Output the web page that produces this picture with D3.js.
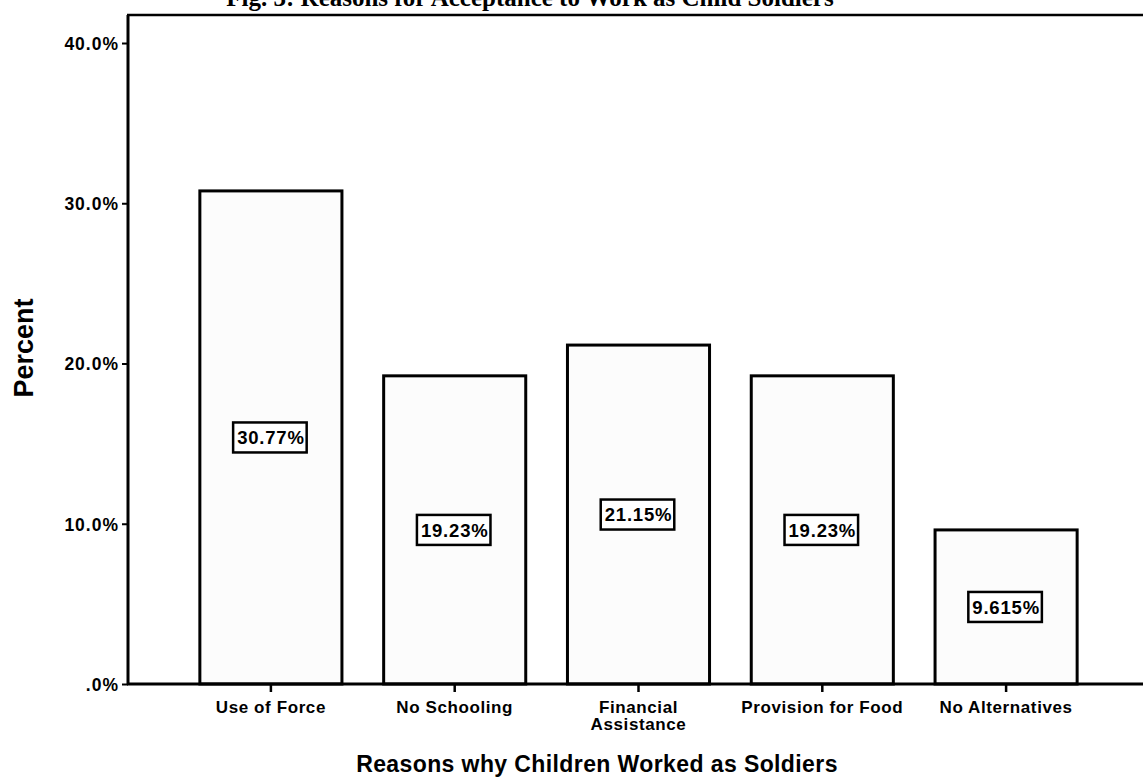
<!DOCTYPE html>
<html>
<head>
<meta charset="utf-8">
<script src="https://cdn.jsdelivr.net/npm/d3@7/dist/d3.min.js"></script>
<style>
  html, body { margin: 0; padding: 0; background: #fff; }
  svg { display: block; }
  text { font-family: "Liberation Sans", Arial, sans-serif; font-weight: bold; fill: #000; }
</style>
</head>
<body>
<svg id="chart" width="1143" height="779"></svg>
<script>
// Reasons and their share of respondents (percent)
const categories = ["Use of Force", "No Schooling", "Financial Assistance", "Provision for Food", "No Alternatives"];
const categoryLines = [["Use of Force"], ["No Schooling"], ["Financial", "Assistance"], ["Provision for Food"], ["No Alternatives"]];
const percents = [30.77, 19.23, 21.15, 19.23, 9.615];
const valueLabels = ["30.77%", "19.23%", "21.15%", "19.23%", "9.615%"];
const yTicks = [0, 10, 20, 30, 40];
const yTickLabels = [".0%", "10.0%", "20.0%", "30.0%", "40.0%"];

const svg = d3.select("#chart");

const x = d3.scaleBand()
  .domain(categories)
  .range([179, 1098])
  .paddingInner(0.227)
  .paddingOuter(0.1135);

const y = d3.scaleLinear()
  .domain([0, 40])
  .range([684, 43]);

// Chart title (runs off the top edge)
svg.append("text")
  .attr("x", 530)
  .attr("y", 6)
  .attr("text-anchor", "middle")
  .style("font-family", "'Liberation Serif', 'DejaVu Serif', serif")
  .style("font-size", "25px")
  .text("Fig. 3: Reasons for Acceptance to Work as Child Soldiers");

// Frame top edge
svg.append("line")
  .attr("x1", 127).attr("x2", 1143)
  .attr("y1", 15).attr("y2", 15)
  .attr("stroke", "#000").attr("stroke-width", 2.5);

// Bars
svg.append("g").selectAll("rect")
  .data(percents)
  .join("rect")
  .attr("x", (d, i) => x(categories[i]))
  .attr("y", d => y(d))
  .attr("width", x.bandwidth())
  .attr("height", d => y(0) - y(d))
  .attr("fill", "#fcfcfc")
  .attr("stroke", "#000")
  .attr("stroke-width", 3);

// Y axis
const yAxis = d3.axisLeft(y)
  .tickValues(yTicks)
  .tickFormat((d, i) => yTickLabels[i])
  .tickSize(6)
  .tickPadding(3);

const gy = svg.append("g")
  .attr("transform", "translate(128,0)")
  .call(yAxis);
gy.select(".domain").attr("stroke", "#000").attr("stroke-width", 3)
  .attr("d", "M0,15V684");
gy.selectAll(".tick line").attr("stroke", "#000").attr("stroke-width", 2);
gy.selectAll(".tick text")
  .style("font-size", "17.5px")
  .style("letter-spacing", "1px")
  .attr("dy", "0.36em");

// X axis
const xAxis = d3.axisBottom(x).tickSize(8).tickFormat("");
const gx = svg.append("g")
  .attr("transform", "translate(0,684)")
  .call(xAxis);
gx.select(".domain").attr("stroke", "#000").attr("stroke-width", 3)
  .attr("d", "M127,0H1143");
gx.selectAll(".tick line").attr("stroke", "#000").attr("stroke-width", 2.5);

// Category labels
const catG = svg.append("g");
categories.forEach((c, i) => {
  const lines = categoryLines[i];
  const t = catG.append("text")
    .attr("x", x(c) + x.bandwidth() / 2)
    .attr("y", 713)
    .attr("text-anchor", "middle")
    .style("font-size", "17px")
    .style("letter-spacing", "0.6px");
  lines.forEach((l, j) => {
    t.append("tspan")
      .attr("x", x(c) + x.bandwidth() / 2)
      .attr("dy", j === 0 ? 0 : 17)
      .text(l);
  });
});

// Value labels in boxes at bar mid-height
const lab = svg.append("g").selectAll("g")
  .data(percents)
  .join("g")
  .attr("transform", (d, i) => `translate(${x(categories[i]) + x.bandwidth() / 2},${(y(0) + y(d)) / 2})`);

lab.append("text")
  .attr("text-anchor", "middle")
  .attr("dy", "0.36em")
  .style("font-size", "18.5px")
  .style("letter-spacing", "0.8px")
  .text((d, i) => valueLabels[i]);

lab.each(function () {
  const g = d3.select(this);
  const bb = g.select("text").node().getBBox();
  g.insert("rect", "text")
    .attr("x", bb.x - 4)
    .attr("y", -15)
    .attr("width", bb.width + 6)
    .attr("height", 30)
    .attr("fill", "#fff")
    .attr("stroke", "#000")
    .attr("stroke-width", 2.5);
});

// Axis titles
svg.append("text")
  .attr("transform", "translate(33,348) rotate(-90)")
  .attr("text-anchor", "middle")
  .style("font-size", "27px")
  .text("Percent");

svg.append("text")
  .attr("x", 597)
  .attr("y", 772)
  .attr("text-anchor", "middle")
  .style("font-size", "23px")
  .style("letter-spacing", "0.4px")
  .text("Reasons why Children Worked as Soldiers");
</script>
</body>
</html>
